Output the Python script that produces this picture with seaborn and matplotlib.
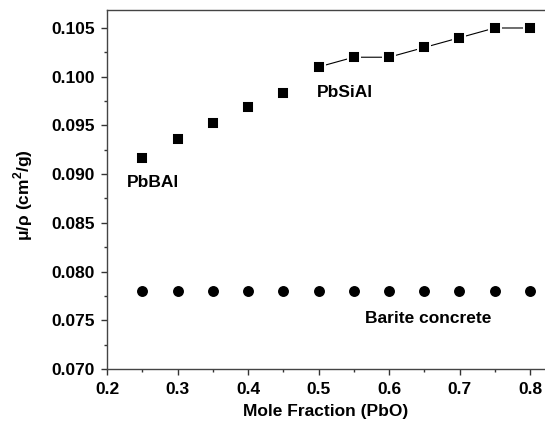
import numpy as np
import pandas as pd
import matplotlib
matplotlib.use("Agg")
import matplotlib.pyplot as plt
from matplotlib.ticker import MultipleLocator, FormatStrFormatter
import seaborn as sns

# ---- data ----
pbbal_x = [0.25, 0.30, 0.35, 0.40, 0.45]
pbbal_y = [0.0917, 0.0936, 0.0953, 0.0969, 0.0983]
pbsial_x = [0.50, 0.55, 0.60, 0.65, 0.70, 0.75, 0.80]
pbsial_y = [0.1010, 0.1020, 0.1020, 0.1030, 0.1040, 0.1050, 0.1050]
barite_x = [0.25, 0.30, 0.35, 0.40, 0.45, 0.50, 0.55, 0.60, 0.65, 0.70, 0.75, 0.80]
barite_y = [0.078] * 12

sns.set_style("ticks")
plt.rcParams['font.family'] = ['Liberation Sans', 'DejaVu Sans']
plt.rcParams['mathtext.fontset'] = 'custom'
plt.rcParams['mathtext.rm'] = 'Liberation Sans'
plt.rcParams['mathtext.bf'] = 'Liberation Sans:bold'
plt.rcParams['text.color'] = 'black'
plt.rcParams['axes.labelcolor'] = 'black'
plt.rcParams['xtick.color'] = 'black'
plt.rcParams['ytick.color'] = 'black'

fig = plt.figure(figsize=(5.45, 4.23), dpi=100)
ax = fig.add_axes([107/545, 1 - 369/423, 1 - 107/545, 359/423])

df_bal = pd.DataFrame({"x": pbbal_x, "y": pbbal_y})
df_sial = pd.DataFrame({"x": pbsial_x, "y": pbsial_y})
df_bar = pd.DataFrame({"x": barite_x, "y": barite_y})

sns.lineplot(data=df_sial, x="x", y="y", ax=ax, color="black", lw=0.8, zorder=2)
sns.scatterplot(data=df_bal, x="x", y="y", ax=ax, marker="s", s=75, color="black",
                edgecolor="white", linewidth=1.4, zorder=3)
sns.scatterplot(data=df_sial, x="x", y="y", ax=ax, marker="s", s=75, color="black",
                edgecolor="white", linewidth=1.4, zorder=3)
sns.scatterplot(data=df_bar, x="x", y="y", ax=ax, marker="o", s=62, color="black",
                edgecolor="black", linewidth=0, zorder=3)

ax.set_xlim(0.2, 0.2 + (545 - 107) / 705)
ax.set_ylim(0.070, 0.070 + 359 / 9743)

ax.xaxis.set_major_locator(MultipleLocator(0.1))
ax.xaxis.set_minor_locator(MultipleLocator(0.05))
ax.yaxis.set_major_locator(MultipleLocator(0.005))
ax.yaxis.set_minor_locator(MultipleLocator(0.0025))
ax.xaxis.set_major_formatter(FormatStrFormatter('%.1f'))
ax.yaxis.set_major_formatter(FormatStrFormatter('%.3f'))

ax.tick_params(which='major', direction='out', length=4, width=1, color='#333333',
               labelcolor='black', labelsize=12.5, pad=5)
ax.tick_params(which='minor', direction='out', length=2, width=1, color='#333333')
for lab in ax.get_xticklabels() + ax.get_yticklabels():
    lab.set_fontweight('bold')

for side in ['left', 'bottom', 'top']:
    ax.spines[side].set_color('#444444')
    ax.spines[side].set_linewidth(1)
ax.spines['right'].set_visible(False)

ax.set_xlabel("Mole Fraction (PbO)", fontsize=12.5, fontweight='bold', color='black')
ax.set_ylabel(r"μ/ρ (cm$^\mathbf{2}$/g)", fontsize=12.5, fontweight='bold', color='black')
ax.xaxis.set_label_coords((326 - 107) / 438, (369 - 404) / 359)
ax.yaxis.set_label_coords((35 - 107) / 438, (369 - 195) / 359)

ax.text(0.2284, 0.0891, "PbBAl", fontsize=12.5, fontweight='bold', ha='left', va='center', color='black')
ax.text(0.4979, 0.0984, "PbSiAl", fontsize=12.5, fontweight='bold', ha='left', va='center', color='black')
ax.text(0.566, 0.0752, "Barite concrete", fontsize=12.5, fontweight='bold', ha='left', va='center', color='black')

fig.savefig("out.png", dpi=100)
